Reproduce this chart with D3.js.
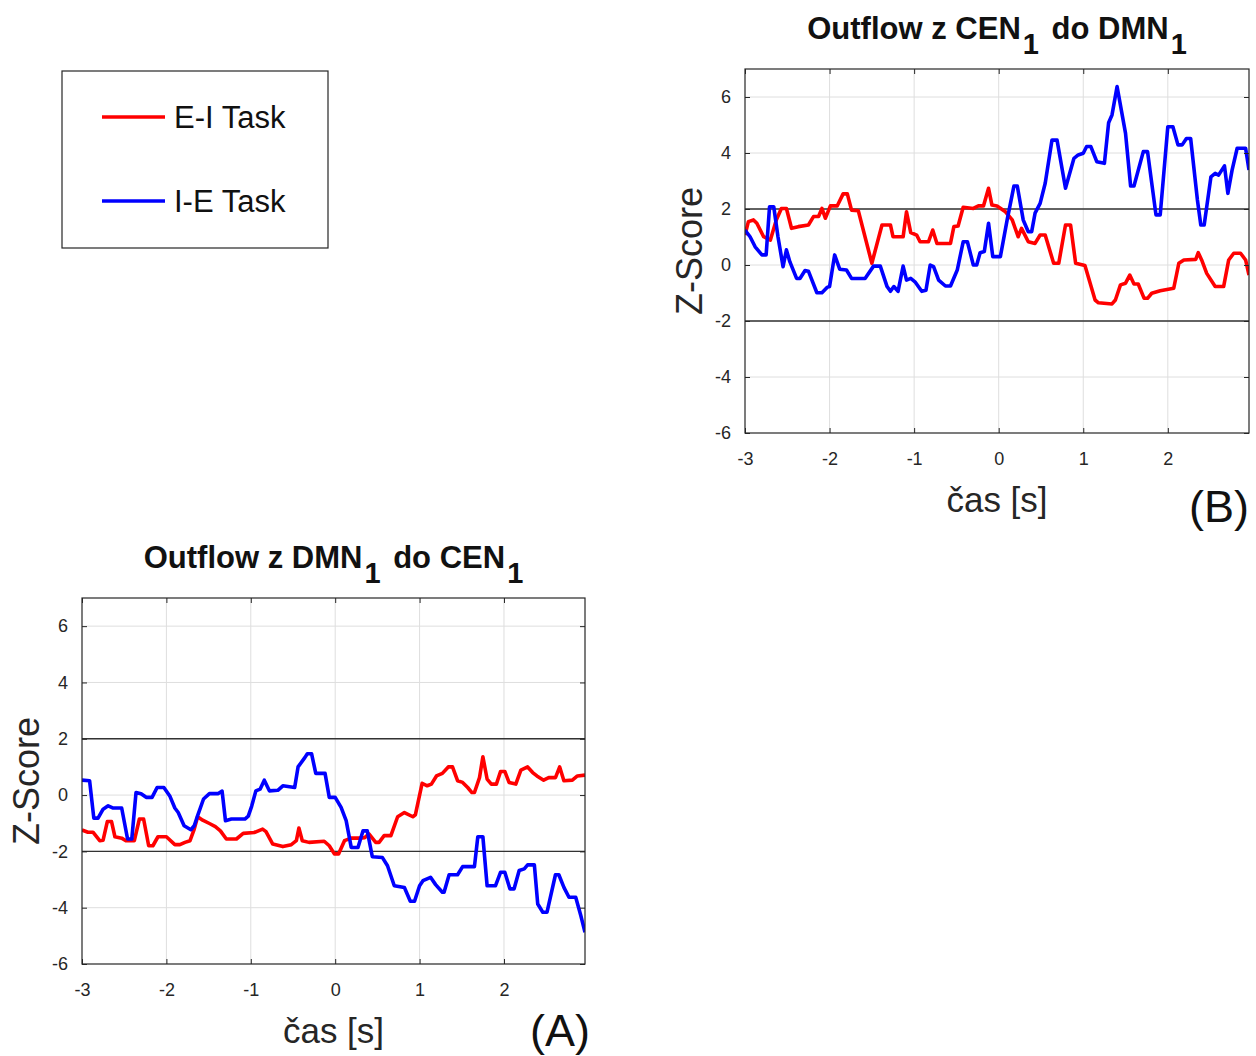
<!DOCTYPE html>
<html>
<head>
<meta charset="utf-8">
<script src="https://cdn.jsdelivr.net/npm/d3@7"></script>
<style>
  body { margin: 0; background: #fff; }
  svg { display: block; }
  text { font-family: "Liberation Sans", Arial, Helvetica, sans-serif; }
</style>
</head>
<body>
<script>
// Axis settings shared by both panels
const timeDomain = [-3, 2.96];
const zDomain = [-6, 7];
const xTickValues = [-3, -2, -1, 0, 1, 2];
const yTickValues = [-6, -4, -2, 0, 2, 4, 6];
const thresholdLevels = [-2, 2];
const seriesNames = ["E-I Task", "I-E Task"];
const seriesColors = ["#ff0000", "#0000ff"];

// Outflow CEN1 -> DMN1, E-I task  [time s, z-score]
const cenToDmnEI = [[-3.00,1.07],[-2.96,1.55],[-2.90,1.61],[-2.86,1.49],[-2.78,1.01],[-2.70,0.89],[-2.63,1.61],[-2.57,2.02],[-2.51,2.02],[-2.45,1.31],[-2.37,1.37],[-2.25,1.43],[-2.19,1.73],[-2.13,1.73],[-2.09,2.02],[-2.05,1.67],[-1.99,2.11],[-1.91,2.11],[-1.84,2.54],[-1.79,2.54],[-1.74,1.96],[-1.66,1.94],[-1.50,0.06],[-1.38,1.43],[-1.28,1.43],[-1.25,1.01],[-1.13,1.01],[-1.09,1.90],[-1.04,1.16],[-0.97,1.07],[-0.93,0.83],[-0.83,0.83],[-0.78,1.25],[-0.73,0.77],[-0.57,0.77],[-0.53,1.37],[-0.48,1.39],[-0.42,2.06],[-0.30,2.02],[-0.24,2.11],[-0.18,2.11],[-0.12,2.74],[-0.08,2.14],[-0.02,2.11],[0.08,1.90],[0.16,1.61],[0.23,1.01],[0.27,1.31],[0.35,0.83],[0.43,0.77],[0.49,1.07],[0.55,1.07],[0.65,0.06],[0.71,0.06],[0.79,1.43],[0.85,1.43],[0.91,0.06],[1.02,-0.02],[1.14,-1.25],[1.18,-1.35],[1.34,-1.39],[1.38,-1.25],[1.44,-0.71],[1.50,-0.65],[1.55,-0.36],[1.60,-0.68],[1.65,-0.68],[1.72,-1.19],[1.76,-1.19],[1.81,-1.01],[1.91,-0.92],[2.07,-0.83],[2.13,0.06],[2.19,0.18],[2.33,0.20],[2.36,0.44],[2.40,0.18],[2.46,-0.30],[2.56,-0.77],[2.66,-0.77],[2.72,0.18],[2.78,0.42],[2.86,0.42],[2.92,0.18],[2.96,-0.36]];

// Outflow CEN1 -> DMN1, I-E task
const cenToDmnIE = [[-3.00,1.25],[-2.94,1.01],[-2.88,0.65],[-2.80,0.36],[-2.75,0.36],[-2.71,2.08],[-2.66,2.08],[-2.61,1.01],[-2.55,-0.06],[-2.51,0.54],[-2.47,0.12],[-2.39,-0.48],[-2.35,-0.48],[-2.29,-0.20],[-2.25,-0.22],[-2.15,-0.99],[-2.09,-0.99],[-2.03,-0.80],[-2.00,-0.77],[-1.94,0.36],[-1.88,-0.15],[-1.80,-0.18],[-1.74,-0.48],[-1.58,-0.48],[-1.48,-0.04],[-1.40,-0.04],[-1.32,-0.77],[-1.28,-0.94],[-1.24,-0.77],[-1.19,-0.94],[-1.13,-0.04],[-1.09,-0.54],[-1.04,-0.48],[-0.99,-0.60],[-0.91,-0.94],[-0.86,-0.90],[-0.81,0.00],[-0.77,-0.06],[-0.71,-0.54],[-0.63,-0.75],[-0.57,-0.75],[-0.49,-0.18],[-0.42,0.83],[-0.37,0.83],[-0.30,0.00],[-0.26,0.00],[-0.22,0.44],[-0.17,0.48],[-0.12,1.49],[-0.07,0.30],[0.02,0.30],[0.10,1.61],[0.18,2.82],[0.22,2.82],[0.29,1.61],[0.35,1.19],[0.39,1.19],[0.43,1.85],[0.49,2.20],[0.55,2.92],[0.63,4.46],[0.69,4.46],[0.79,2.74],[0.89,3.81],[0.94,3.93],[1.00,3.99],[1.04,4.23],[1.09,4.23],[1.16,3.69],[1.25,3.63],[1.30,5.08],[1.34,5.36],[1.40,6.37],[1.50,4.70],[1.56,2.82],[1.60,2.82],[1.71,4.05],[1.76,4.05],[1.86,1.79],[1.91,1.79],[2.00,4.94],[2.06,4.94],[2.12,4.29],[2.17,4.29],[2.22,4.52],[2.27,4.52],[2.35,2.32],[2.39,1.43],[2.43,1.43],[2.51,3.15],[2.56,3.27],[2.60,3.21],[2.67,3.54],[2.71,2.56],[2.76,3.39],[2.82,4.17],[2.92,4.17],[2.96,3.39]];

// Outflow DMN1 -> CEN1, E-I task
const dmnToCenEI = [[-3.00,-1.24],[-2.93,-1.32],[-2.87,-1.32],[-2.79,-1.62],[-2.75,-1.60],[-2.70,-0.94],[-2.65,-0.94],[-2.61,-1.48],[-2.53,-1.53],[-2.48,-1.62],[-2.38,-1.62],[-2.32,-0.85],[-2.27,-0.85],[-2.21,-1.80],[-2.16,-1.80],[-2.10,-1.48],[-2.00,-1.48],[-1.90,-1.76],[-1.84,-1.76],[-1.78,-1.68],[-1.72,-1.62],[-1.67,-1.21],[-1.63,-0.77],[-1.57,-0.89],[-1.49,-1.01],[-1.42,-1.12],[-1.36,-1.27],[-1.29,-1.56],[-1.17,-1.56],[-1.09,-1.36],[-0.96,-1.33],[-0.86,-1.21],[-0.82,-1.30],[-0.74,-1.74],[-0.62,-1.83],[-0.52,-1.76],[-0.46,-1.62],[-0.43,-1.17],[-0.39,-1.62],[-0.31,-1.68],[-0.13,-1.64],[-0.07,-1.80],[-0.01,-2.09],[0.04,-2.09],[0.11,-1.62],[0.19,-1.53],[0.28,-1.53],[0.35,-1.51],[0.40,-1.38],[0.48,-1.68],[0.52,-1.68],[0.58,-1.44],[0.66,-1.44],[0.74,-0.77],[0.82,-0.62],[0.92,-0.77],[0.95,-0.70],[1.03,0.42],[1.09,0.33],[1.14,0.39],[1.20,0.68],[1.27,0.77],[1.34,1.00],[1.39,1.00],[1.45,0.51],[1.51,0.45],[1.57,0.27],[1.62,0.09],[1.65,0.09],[1.71,0.62],[1.75,1.36],[1.80,0.57],[1.85,0.39],[1.91,0.39],[1.96,0.84],[2.01,0.84],[2.06,0.45],[2.14,0.39],[2.20,0.89],[2.28,1.00],[2.34,0.80],[2.39,0.68],[2.47,0.53],[2.53,0.62],[2.61,0.62],[2.66,1.00],[2.71,0.51],[2.81,0.53],[2.87,0.68],[2.96,0.71]];

// Outflow DMN1 -> CEN1, I-E task
const dmnToCenIE = [[-3.00,0.53],[-2.91,0.51],[-2.86,-0.82],[-2.81,-0.82],[-2.75,-0.50],[-2.69,-0.38],[-2.63,-0.46],[-2.53,-0.46],[-2.46,-1.56],[-2.41,-1.56],[-2.36,0.09],[-2.30,0.05],[-2.24,-0.08],[-2.17,-0.08],[-2.11,0.27],[-2.03,0.27],[-1.96,-0.03],[-1.90,-0.46],[-1.86,-0.62],[-1.79,-1.09],[-1.71,-1.23],[-1.67,-1.09],[-1.63,-0.73],[-1.56,-0.14],[-1.49,0.05],[-1.39,0.05],[-1.34,0.14],[-1.30,-0.91],[-1.23,-0.85],[-1.07,-0.85],[-1.03,-0.75],[-0.99,-0.40],[-0.94,0.15],[-0.89,0.21],[-0.84,0.53],[-0.78,0.15],[-0.68,0.17],[-0.62,0.33],[-0.48,0.27],[-0.44,1.00],[-0.36,1.33],[-0.33,1.47],[-0.28,1.47],[-0.23,0.77],[-0.12,0.77],[-0.07,-0.08],[0.00,-0.08],[0.07,-0.44],[0.13,-0.91],[0.19,-1.86],[0.27,-1.86],[0.33,-1.27],[0.38,-1.27],[0.44,-2.19],[0.56,-2.22],[0.62,-2.51],[0.70,-3.22],[0.82,-3.28],[0.89,-3.77],[0.94,-3.77],[1.00,-3.22],[1.04,-3.04],[1.13,-2.92],[1.19,-3.18],[1.27,-3.45],[1.29,-3.45],[1.35,-2.83],[1.45,-2.83],[1.51,-2.54],[1.65,-2.54],[1.69,-1.48],[1.75,-1.48],[1.80,-3.22],[1.90,-3.22],[1.96,-2.74],[2.01,-2.74],[2.07,-3.33],[2.12,-3.33],[2.18,-2.68],[2.24,-2.62],[2.28,-2.48],[2.36,-2.48],[2.40,-3.87],[2.46,-4.16],[2.51,-4.16],[2.61,-2.83],[2.65,-2.83],[2.71,-3.28],[2.77,-3.63],[2.85,-3.63],[2.91,-4.28],[2.96,-4.87]];

const panels = [
  { key: "B", title: ["Outflow z CEN", "1", " do DMN", "1"],
    series: [cenToDmnEI, cenToDmnIE],
    box: { left: 745, top: 69, right: 1249, bottom: 433 },
    letterX: 1249, letterY: 522 },
  { key: "A", title: ["Outflow z DMN", "1", " do CEN", "1"],
    series: [dmnToCenEI, dmnToCenIE],
    box: { left: 82, top: 598, right: 585, bottom: 964 },
    letterX: 590, letterY: 1046 }
];

const W = 1256, H = 1056;
const ink = "#262626";
const svg = d3.select("body").append("svg").attr("width", W).attr("height", H);
const plainNumber = d => String(d);

panels.forEach(p => {
  const b = p.box;
  const x = d3.scaleLinear().domain(timeDomain).range([b.left, b.right]);
  const y = d3.scaleLinear().domain(zDomain).range([b.bottom, b.top]);
  const g = svg.append("g");

  // grid
  g.append("g").selectAll("line").data(xTickValues.filter(t => t > timeDomain[0])).join("line")
    .attr("x1", d => x(d)).attr("x2", d => x(d)).attr("y1", b.top).attr("y2", b.bottom)
    .attr("stroke", "#dedede").attr("stroke-width", 1);
  g.append("g").selectAll("line").data(yTickValues.filter(v => v > zDomain[0])).join("line")
    .attr("x1", b.left).attr("x2", b.right).attr("y1", d => y(d)).attr("y2", d => y(d))
    .attr("stroke", "#dedede").attr("stroke-width", 1);

  // significance thresholds
  g.append("g").selectAll("line").data(thresholdLevels).join("line")
    .attr("x1", b.left).attr("x2", b.right).attr("y1", d => y(d)).attr("y2", d => y(d))
    .attr("stroke", "#333").attr("stroke-width", 1.3);

  // data lines
  const clipId = "clip" + p.key;
  svg.append("clipPath").attr("id", clipId).append("rect")
    .attr("x", b.left).attr("y", b.top).attr("width", b.right - b.left).attr("height", b.bottom - b.top);
  const line = d3.line().x(d => x(d[0])).y(d => y(d[1]));
  p.series.forEach((s, i) => {
    g.append("path").datum(s).attr("d", line).attr("clip-path", `url(#${clipId})`)
      .attr("fill", "none").attr("stroke", seriesColors[i]).attr("stroke-width", 3.6)
      .attr("stroke-linejoin", "round");
  });

  // axes with inward ticks on all sides
  const tickStyle = sel => {
    sel.select(".domain").remove();
    sel.selectAll(".tick line").attr("stroke", ink);
    sel.selectAll(".tick text").attr("fill", ink).style("font-size", "18px")
      .style("font-family", '"Liberation Sans", Arial, sans-serif');
  };
  g.append("g").attr("transform", `translate(0,${b.bottom})`)
    .call(d3.axisBottom(x).tickValues(xTickValues).tickFormat(plainNumber)
      .tickSizeInner(-5).tickSizeOuter(0).tickPadding(19))
    .call(tickStyle);
  g.append("g").attr("transform", `translate(0,${b.top})`)
    .call(d3.axisTop(x).tickValues(xTickValues).tickSizeInner(-5).tickSizeOuter(0).tickFormat(""))
    .call(tickStyle);
  g.append("g").attr("transform", `translate(${b.left},0)`)
    .call(d3.axisLeft(y).tickValues(yTickValues).tickFormat(plainNumber)
      .tickSizeInner(-5).tickSizeOuter(0).tickPadding(14))
    .call(tickStyle);
  g.append("g").attr("transform", `translate(${b.right},0)`)
    .call(d3.axisRight(y).tickValues(yTickValues).tickSizeInner(-5).tickSizeOuter(0).tickFormat(""))
    .call(tickStyle);

  // frame
  g.append("rect").attr("x", b.left).attr("y", b.top)
    .attr("width", b.right - b.left).attr("height", b.bottom - b.top)
    .attr("fill", "none").attr("stroke", ink).attr("stroke-width", 1.2);

  // title with subscripts
  const cx = (b.left + b.right) / 2;
  const title = g.append("text").attr("x", 0).attr("y", b.top - 30)
    .attr("fill", "#111").style("font-weight", "bold").style("font-size", "31px");
  title.append("tspan").text(p.title[0]);
  title.append("tspan").text(p.title[1]).attr("dy", 15).attr("dx", 2).style("font-size", "29px");
  title.append("tspan").text(p.title[2]).attr("dy", -15).attr("dx", 4);
  title.append("tspan").text(p.title[3]).attr("dy", 15).attr("dx", 2).style("font-size", "29px");
  const tw = title.node().getBBox().width;
  title.attr("x", cx - tw / 2);

  // axis labels
  g.append("text").attr("x", cx).attr("y", b.bottom + 79).attr("text-anchor", "middle")
    .attr("fill", ink).style("font-size", "35px").text("čas [s]");
  const cy = (b.top + b.bottom) / 2;
  g.append("text").attr("transform", `translate(${b.left - 43},${cy}) rotate(-90)`)
    .attr("text-anchor", "middle").attr("fill", ink).style("font-size", "36px").text("Z-Score");

  // panel letter
  g.append("text").attr("x", p.letterX).attr("y", p.letterY).attr("text-anchor", "end")
    .attr("fill", "#111").style("font-size", "45px").text(`(${p.key})`);
});

// legend
const legend = svg.append("g");
legend.append("rect").attr("x", 62).attr("y", 71).attr("width", 266).attr("height", 177)
  .attr("fill", "#fff").attr("stroke", ink).attr("stroke-width", 1.2);
seriesNames.forEach((name, i) => {
  const ly = 117 + i * 84;
  legend.append("line").attr("x1", 102).attr("x2", 165).attr("y1", ly).attr("y2", ly)
    .attr("stroke", seriesColors[i]).attr("stroke-width", 3.6);
  legend.append("text").attr("x", 174).attr("y", ly + 11).attr("fill", "#111")
    .style("font-size", "31px").text(name);
});
</script>
</body>
</html>
